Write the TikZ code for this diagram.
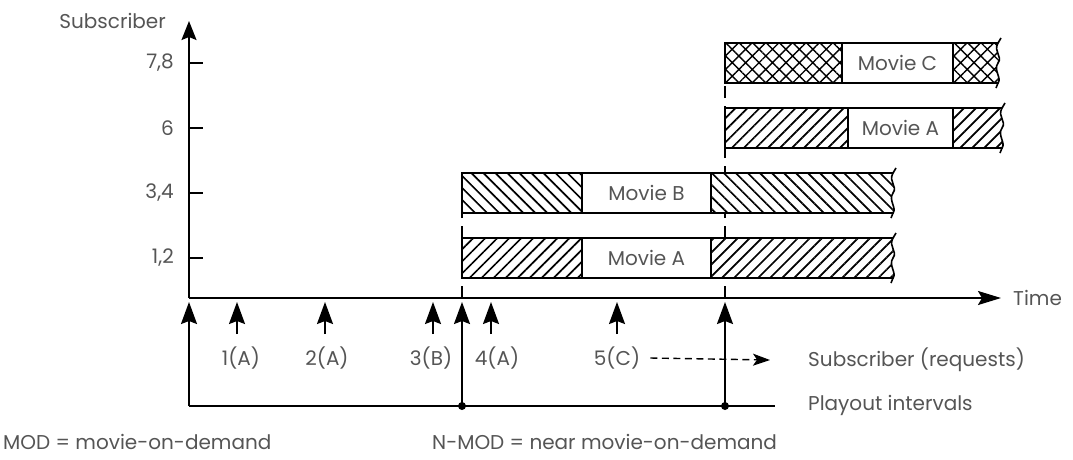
\documentclass[tikz,border=0pt]{standalone}
\usepackage{fontspec}
\setmainfont{Poppins}
\usetikzlibrary{arrows.meta,patterns.meta}
\definecolor{labelgray}{HTML}{555555}
\tikzset{
  lbl/.style={text=labelgray, font=\fontsize{20}{24}\selectfont, inner sep=0pt},
  axisline/.style={line width=1.9pt},
  reqarrow/.style={line width=1.8pt, -{Stealth[length=22pt,width=16pt,inset=3pt]}},
  baredge/.style={line width=1.6pt},
  hatchA/.style={baredge, preaction={fill=white}, pattern={Lines[angle=45,distance=8.5pt,line width=1.7pt]}},
  hatchB/.style={baredge, preaction={fill=white}, pattern={Lines[angle=-45,distance=8.5pt,line width=1.7pt]}},
  crossC/.style={baredge, preaction={fill=white}, pattern={Hatch[angle=45,distance=9.5pt,line width=1.4pt]}},
  plainseg/.style={baredge, fill=white},
}
% bar segment with a torn right end: style, left x, right x, top y, bottom y
\newcommand{\tornbar}[5]{%
  \draw[#1] (#2,#4) -- (#3,#4) .. controls (#3-5,#4+9) and (#3+5,#4+13) .. (#3,#4+20)
    .. controls (#3-5,#4+27) and (#3+4,#5-5) .. (#3,#5) -- (#2,#5) -- cycle;
  \draw[baredge] (#3,#4) -- ++(3,-5);
  \draw[baredge] (#3,#5) -- ++(-2,5);
}
\begin{document}
\begin{tikzpicture}[x=1pt,y=-1pt]
\useasboundingbox (0,0) rectangle (1073,459);

% Axes
\draw[axisline, -{Stealth[length=19pt,width=15pt,inset=3pt]}] (189,298) -- (189,21);
\draw[axisline, -{Stealth[length=23pt,width=14pt,inset=4pt]}] (189,298) -- (1001,298);
\node[lbl, anchor=east] (ylabel) at (166,21) {Subscriber};
\node[lbl, anchor=west] (xlabel) at (1013,298) {Time};

% Ticks and subscriber groups
\foreach \yy/\grp in {63/{7,8}, 128/6, 193/{3,4}, 258/{1,2}} {
  \draw[axisline] (189,\yy) -- (203,\yy);
  \node[lbl, anchor=east] at (174,\yy) {\grp};
}

% Dashed start lines of the playouts
\draw[line width=1.5pt, dash pattern=on 12pt off 8pt] (462,298) -- (462,173);
\draw[line width=1.5pt, dash pattern=on 12pt off 8pt] (725,298) -- (725,43);

% First playout (subscribers 1-4)
\draw[hatchA] (462,238) rectangle (582,278);
\draw[plainseg] (582,238) rectangle (711,278);
\node[lbl] (movA1) at (646.5,258) {Movie A};
\tornbar{hatchA}{711}{893}{238}{278}
\draw[hatchB] (462,173) rectangle (582,213);
\draw[plainseg] (582,173) rectangle (711,213);
\node[lbl] (movB) at (646.5,193) {Movie B};
\tornbar{hatchB}{711}{893}{173}{213}

% Second playout (subscribers 6-8)
\draw[hatchA] (725,108) rectangle (848,148);
\draw[plainseg] (848,108) rectangle (953,148);
\node[lbl] (movA2) at (900.5,128) {Movie A};
\tornbar{hatchA}{953}{1002}{108}{148}
\draw[crossC] (725,43) rectangle (842,83);
\draw[plainseg] (842,43) rectangle (953,83);
\node[lbl] (movC) at (897.5,63) {Movie C};
\tornbar{crossC}{953}{998}{43}{83}

% Subscriber requests
\foreach \xx in {237,325,433,491,617}
  \draw[reqarrow] (\xx,334) -- (\xx,302);
\node[lbl] (r1) at (241,358) {1(A)};
\node[lbl] (r2) at (327,358) {2(A)};
\node[lbl] (r3) at (431,358) {3(B)};
\node[lbl] (r4) at (497,358) {4(A)};
\node[lbl] (r5) at (617,358) {5(C)};
\coordinate (reqend) at (770,360);
\draw[line width=1.4pt, dash pattern=on 7pt off 4.5pt, -{Stealth[length=17pt,width=12pt,inset=4pt]}] ([xshift=10pt]r5.east) -- (reqend);
\node[lbl, anchor=west] (reqtxt) at (808,360) {Subscriber (requests)};

% Playout intervals
\draw[axisline] (189,406) -- (775,406);
\foreach \xx in {189,462,725}
  \draw[reqarrow] (\xx,406) -- (\xx,302);
\fill (462,406) circle (4);
\fill (725,406) circle (4);
\node[lbl, anchor=west] (playtxt) at (808,405) {Playout intervals};

% Legend
\node[lbl, anchor=west] (mod) at (3,442) {MOD = movie-on-demand};
\node[lbl, anchor=west] (nmod) at (432,442) {N-MOD = near movie-on-demand};
\end{tikzpicture}
\end{document}
